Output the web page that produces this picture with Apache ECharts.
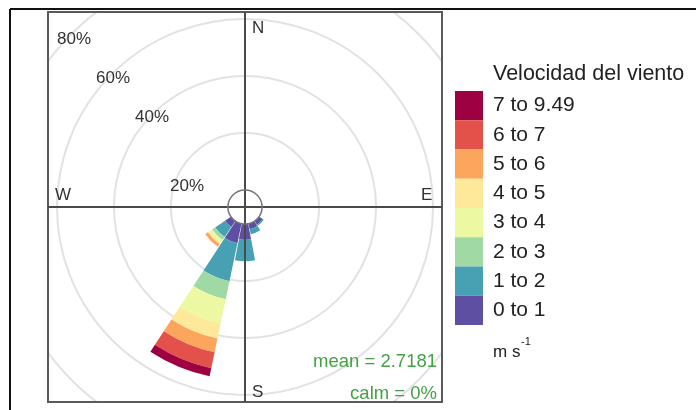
<!DOCTYPE html>
<html><head><meta charset="utf-8">
<script src="https://cdn.jsdelivr.net/npm/echarts@6/dist/echarts.min.js"></script>
<style>html,body{margin:0;padding:0;background:#fff}#c{width:696px;height:410px}</style>
</head><body><div id="c"></div>
<script>
// ---- data ----
const directions = ['N','NNE','NE','ENE','E','ESE','SE','SSE','S','SSW','SW','WSW','W','WNW','NW','NNW'];
const speedBins = ['0 to 1','1 to 2','2 to 3','3 to 4','4 to 5','5 to 6','6 to 7','7 to 9.49'];
const binColors = ['#5E4FA2','#48A1B3','#A1D9A4','#EDF8A3','#FEE99A','#FCA55D','#E2524A','#9E0142'];
// percentage of time in each speed bin, per direction (N ... NNW)
const bin0to1  = [0,0,0,0,0,0,1.5,2.0,5.5,7.0,2.5,0,0,0,0,0];
const bin1to2  = [0,0,0,0,0,0,0.5,1.8,7.5,13.6,4.2,0,0,0,0,0];
const bin2to3  = [0,0,0,0,0,0,0,0,0,6.5,1.3,0,0,0,0,0];
const bin3to4  = [0,0,0,0,0,0,0,0,0,8.7,1.1,0,0,0,0,0];
const bin4to5  = [0,0,0,0,0,0,0,0,0,5.4,0.7,0,0,0,0,0];
const bin5to6  = [0,0,0,0,0,0,0,0,0,4.9,1.1,0,0,0,0,0];
const bin6to7  = [0,0,0,0,0,0,0,0,0,5.7,0,0,0,0,0,0];
const bin7to949= [0,0,0,0,0,0,0,0,0,2.9,0,0,0,0,0,0];
const binValues = [bin0to1,bin1to2,bin2to3,bin3to4,bin4to5,bin5to6,bin6to7,bin7to949];
const gridPercents = [20,40,60,80];
const gridLabels = ['20%','40%','60%','80%'];
const meanText = 'mean = 2.7181';
const calmText = 'calm = 0%';

// ---- chart ----
const chart = echarts.init(document.getElementById('c'), null, {renderer:'canvas'});
const series = speedBins.map((name,i)=>({
  name, type:'bar', coordinateSystem:'polar', stack:'rose',
  barCategoryGap:'5%', data: binValues[i],
  itemStyle:{color: binColors[i]}, emphasis:{disabled:true}, animation:false
}));
const FONT = 'Liberation Sans, Arial, sans-serif';
chart.setOption({
  animation:false,
  polar:{center:[245,207], radius:245},
  angleAxis:{type:'category', data:directions, startAngle:101.25, boundaryGap:true,
    axisLine:{show:false}, axisTick:{show:false}, axisLabel:{show:false}, splitLine:{show:false}},
  radiusAxis:{type:'value', min:-6, max:80,
    axisLine:{show:false}, axisTick:{show:false, customValues:gridPercents},
    axisLabel:{show:false, customValues:gridPercents},
    splitLine:{show:true, lineStyle:{color:'#e2e2e2', width:2}}},
  legend:{orient:'vertical', left:455, top:91, padding:0, itemWidth:28, itemHeight:29.25, itemGap:0,
    icon:'rect', z:100, selectedMode:false, data: speedBins.slice().reverse(),
    textStyle:{fontFamily:FONT, fontSize:21, color:'#222', padding:[0,0,0,5]}},
  series
});

// helper geometry from the polar coordinate system
const ctr = chart.convertToPixel({polarIndex:0}, [-6, 'N']);
const p0 = chart.convertToPixel({polarIndex:0}, [0, 'N']);
const calmR = Math.hypot(p0[0]-ctr[0], p0[1]-ctr[1]);
const fx0=48, fy0=12, fx1=442, fy1=402;
const gray='#4a4a4a';
const txt=(x,y,text,size,opts)=>Object.assign({type:'text', x, y, z:120,
  style:Object.assign({text, fontFamily:FONT, fontSize:size, fill:'#333', textVerticalAlign:'middle', verticalAlign:'middle'}, opts||{})});
const labelPos=[[187,186],[152,117],[113,78],[74,39]];
chart.setOption({graphic:{elements:[
  {type:'rect', z:50, shape:{x:0,y:0,width:fx0,height:410}, style:{fill:'#fff'}},
  {type:'rect', z:50, shape:{x:0,y:0,width:696,height:fy0}, style:{fill:'#fff'}},
  {type:'rect', z:50, shape:{x:fx1,y:0,width:696-fx1,height:410}, style:{fill:'#fff'}},
  {type:'rect', z:50, shape:{x:0,y:fy1,width:696,height:10}, style:{fill:'#fff'}},
  {type:'rect', z:60, shape:{x:fx0,y:fy0,width:fx1-fx0,height:fy1-fy0}, style:{fill:null, stroke:'#5a5a5a', lineWidth:2}},
  {type:'line', z:60, shape:{x1:fx0,y1:ctr[1],x2:fx1,y2:ctr[1]}, style:{stroke:gray, lineWidth:2}},
  {type:'line', z:60, shape:{x1:ctr[0],y1:fy0,x2:ctr[0],y2:fy1}, style:{stroke:gray, lineWidth:2}},
  {type:'circle', z:60, shape:{cx:ctr[0],cy:ctr[1],r:calmR}, style:{fill:null, stroke:'#777', lineWidth:1.5}},
  {type:'line', z:60, shape:{x1:10,y1:9,x2:696,y2:9}, style:{stroke:'#111', lineWidth:2}},
  {type:'line', z:60, shape:{x1:10,y1:9,x2:10,y2:410}, style:{stroke:'#111', lineWidth:2}},
  txt(ctr[0]+7, 28, 'N', 17),
  txt(ctr[0]+7, 392, 'S', 17),
  txt(55, 195, 'W', 17),
  txt(421, 195, 'E', 17),
  ...gridLabels.map((t,i)=>txt(labelPos[i][0], labelPos[i][1], t, 17, {align:'center', textAlign:'center'})),
  txt(437, 362, meanText, 18.5, {align:'right', textAlign:'right', fill:'#45a145'}),
  txt(437, 394, calmText, 18.5, {align:'right', textAlign:'right', fill:'#45a145'}),
  txt(493, 74, 'Velocidad del viento', 21.5, {fill:'#222'}),
  txt(493, 352, 'm s', 17, {fill:'#222'}),
  txt(521, 342, '-1', 11, {fill:'#222'})
]}});
</script></body></html>
